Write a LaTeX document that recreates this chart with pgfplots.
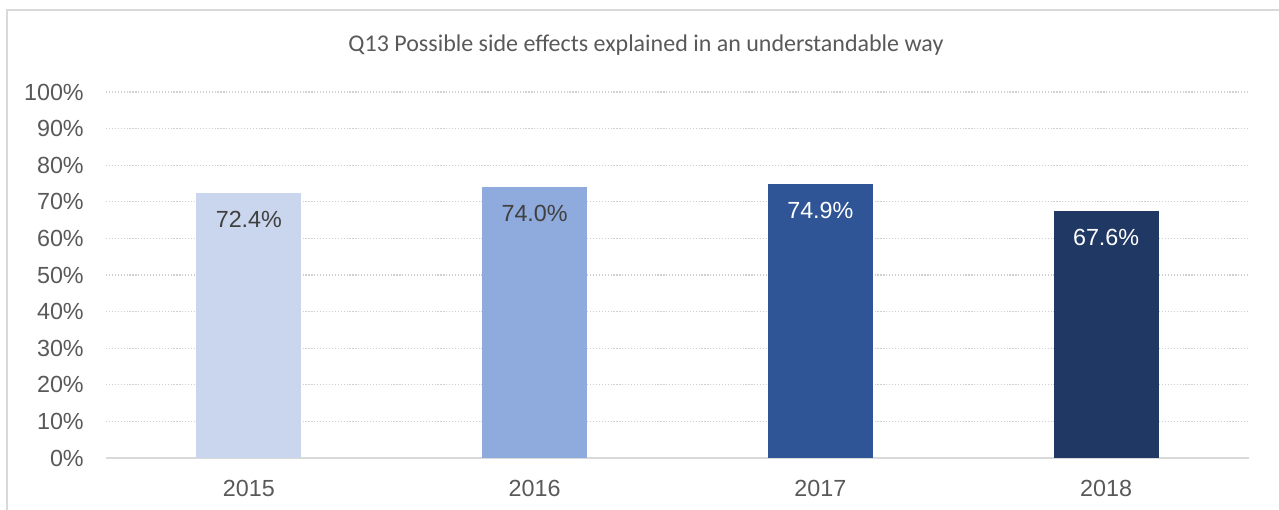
\documentclass[border=0pt]{standalone}
\usepackage{fontspec}
\setmainfont{Liberation Sans}
\newfontfamily\titlefont{Carlito}
\usepackage{pgfplots}
\pgfplotsset{compat=1.18}

\definecolor{txt}{HTML}{595959}
\definecolor{lbl}{HTML}{404040}
\definecolor{gridc}{HTML}{D0D0D0}
\definecolor{framec}{HTML}{D9D9D9}
\definecolor{c15}{HTML}{CAD6EE}
\definecolor{c16}{HTML}{8FAADC}
\definecolor{c17}{HTML}{2F5597}
\definecolor{c18}{HTML}{203864}

\begin{document}
\begin{tikzpicture}
% frame around the whole chart (right and bottom edges fall outside the page)
\draw[framec, line width=1.5pt] (-74.25pt,-46.5pt) rectangle (888pt,336pt);

\begin{axis}[
    at={(0,0)}, anchor=south west,
    scale only axis,
    width=857.25pt, height=274.5pt,
    xmin=-0.5, xmax=3.5,
    ymin=0, ymax=100,
    xtick={0,1,2,3},
    xticklabels={2015,2016,2017,2018},
    ytick={10,20,...,100},
    extra y ticks={0},
    extra y tick style={grid style={solid, framec, line width=1.5pt}},
    yticklabel={\pgfmathprintnumber{\tick}\%},
    /pgf/number format/assume math mode=true,
    major tick length=0pt,
    axis line style={draw=none},
    ymajorgrids,
    grid style={gridc, line width=0.9pt, dash pattern=on 0.9pt off 1.3pt},
    tick label style={font=\fontsize{17.5}{20}\selectfont, text=txt},
    yticklabel style={anchor=east, inner sep=0pt, xshift=-16.5pt},
    xticklabel style={anchor=base, inner sep=0pt, yshift=-29pt},
    ybar, bar width=78.75pt, bar shift=0pt,
    nodes near coords={\pgfmathprintnumber[fixed,precision=1,fixed zerofill]{\pgfplotspointmeta}\%},
    nodes near coords style={anchor=center, yshift=-20pt, font=\fontsize{17.5}{20}\selectfont},
    clip=false,
]
\addplot[fill=c15, draw=none, nodes near coords style={text=lbl}] coordinates {(0,72.4)};
\addplot[fill=c16, draw=none, nodes near coords style={text=lbl}] coordinates {(1,74.0)};
\addplot[fill=c17, draw=none, nodes near coords style={text=white}] coordinates {(2,74.9)};
\addplot[fill=c18, draw=none, nodes near coords style={text=white}] coordinates {(3,67.6)};
\end{axis}

\node[text=txt, font=\titlefont\fontsize{18}{21}\selectfont] at (405pt,309.75pt)
  {Q13 Possible side effects explained in an understandable way};

\pgfresetboundingbox
\useasboundingbox (-79.5pt,-39pt) rectangle (879.75pt,343.5pt);
\end{tikzpicture}
\end{document}
